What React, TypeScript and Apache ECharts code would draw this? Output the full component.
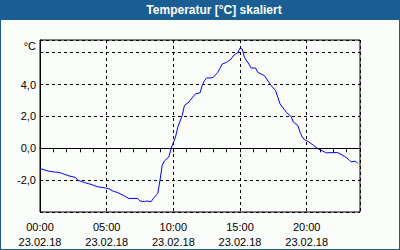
import React, { useEffect, useRef } from "react";
import * as echarts from "echarts";

const title = "Temperatur [°C] skaliert";
const unit = "°C";
const dateLabel = "23.02.18";
const times = [
  "00:00", "00:40", "01:10", "01:20", "01:40", "02:10", "02:40", "02:50", "03:20", "03:50",
  "04:20", "04:50", "05:10", "05:30", "05:50", "06:20", "06:40", "07:20", "07:30", "07:50",
  "08:00", "08:20", "08:30", "08:50", "09:00", "09:10", "09:20", "09:40", "09:50", "10:10",
  "10:20", "10:40", "10:50", "11:10", "11:20", "11:40", "12:00", "12:10", "12:20", "12:30",
  "12:50", "13:00", "13:20", "13:40", "14:00", "14:20", "14:30", "14:50", "15:00", "15:10",
  "15:20", "15:40", "15:50", "16:10", "16:20", "16:50", "17:00", "17:10", "17:20", "17:40",
  "17:50", "18:00", "18:20", "18:30", "18:50", "19:00", "19:20", "19:30", "19:40", "19:50",
  "20:10", "20:30", "20:50", "21:20", "21:30", "21:50", "22:20", "22:50", "23:10", "23:20",
  "23:40", "23:50",
];
const temps = [
  -1.27, -1.44, -1.5, -1.5, -1.58, -1.73, -1.83, -2.0, -2.15, -2.27,
  -2.42, -2.48, -2.54, -2.7, -2.78, -3.0, -3.15, -3.15, -3.31, -3.35,
  -3.31, -3.35, -3.15, -2.83, -2.0, -1.06, -0.79, -0.54, 0.0, 0.71,
  1.33, 2.06, 2.69, 2.9, 3.1, 3.42, 3.48, 3.94, 4.25, 4.42,
  4.42, 4.46, 4.77, 5.29, 5.4, 5.6, 5.81, 6.02, 6.29, 6.23,
  5.71, 5.29, 5.04, 5.04, 4.77, 4.56, 4.35, 4.15, 3.94, 3.63,
  3.21, 2.79, 2.42, 2.23, 2.0, 1.65, 1.44, 1.02, 0.71, 0.54,
  0.4, 0.19, -0.02, -0.23, -0.29, -0.27, -0.27, -0.5, -0.71, -0.85,
  -0.81, -0.96,
];
const yLabels = [4, 2, 0, -2];
const xTickHours = [0, 5, 10, 15, 20];

const FONT = "Liberation Sans";
const BLUE = "#1b5e93";

function toHours(t: string): number {
  const [h, m] = t.split(":").map(Number);
  return h + m / 60;
}

export default function App() {
  const ref = useRef<HTMLDivElement>(null);
  useEffect(() => {
    if (!ref.current) return;
    const chart = echarts.init(ref.current, undefined, { renderer: "svg" });
    const data = times.map((t, i) => [toHours(t), temps[i]]);
    chart.setOption({
      animation: false,
      backgroundColor: "#fbfdfb",
      textStyle: { fontFamily: FONT },
      grid: {
        left: 40,
        right: 40,
        top: 40,
        bottom: 38,
        show: true,
        borderColor: "#000",
        borderWidth: 1,
      },
      xAxis: {
        type: "value",
        min: 0,
        max: 24,
        interval: 5,
        axisLine: { show: true, lineStyle: { color: "#000", width: 1 } },
        axisTick: { show: true, length: 4, lineStyle: { color: "#000" } },
        minorTick: { show: true, splitNumber: 5, length: 4, lineStyle: { color: "#000" } },
        splitLine: { show: true, lineStyle: { color: "#000", type: [3, 3], width: 1 } },
        axisLabel: {
          margin: 7,
          fontFamily: FONT,
          fontSize: 11,
          color: "#000",
          lineHeight: 15,
          formatter: (v: number) => {
            if (!xTickHours.includes(v)) return "";
            const hh = String(v).padStart(2, "0");
            return `${hh}:00\n${dateLabel}`;
          },
        },
      },
      yAxis: {
        type: "value",
        min: -4,
        max: 6.8,
        interval: 2,
        axisLine: { show: true, lineStyle: { color: "#000", width: 1 } },
        axisTick: { show: false },
        splitLine: { show: true, lineStyle: { color: "#000", type: [3, 3], width: 1 } },
        axisLabel: {
          margin: 4,
          fontFamily: FONT,
          fontSize: 11,
          color: "#000",
          formatter: (v: number) =>
            yLabels.includes(v) ? v.toFixed(1).replace(".", ",") : "",
        },
      },
      series: [
        {
          type: "line",
          data,
          showSymbol: false,
          symbol: "none",
          lineStyle: { color: "#0000ff", width: 1 },
        },
      ],
      graphic: [
        { type: "rect", shape: { x: 0, y: 0, width: 400, height: 20 }, style: { fill: BLUE }, silent: true },
        { type: "rect", shape: { x: 0, y: 0, width: 1, height: 250 }, style: { fill: BLUE }, silent: true },
        { type: "rect", shape: { x: 399, y: 0, width: 1, height: 250 }, style: { fill: BLUE }, silent: true },
        { type: "rect", shape: { x: 0, y: 249, width: 400, height: 1 }, style: { fill: BLUE }, silent: true },
        {
          type: "text",
          x: 214,
          y: 10,
          style: {
            text: title,
            fill: "#fff",
            font: `bold 12px "${FONT}"`,
            textAlign: "center",
            textVerticalAlign: "middle",
          },
        },
        {
          type: "text",
          x: 36,
          y: 46,
          style: {
            text: unit,
            fill: "#000",
            font: `11px "${FONT}"`,
            textAlign: "right",
            textVerticalAlign: "middle",
          },
        },
      ],
    });
    return () => chart.dispose();
  }, []);
  return (
    <div
      ref={ref}
      style={{ position: "fixed", left: 0, top: 0, width: 400, height: 250 }}
    />
  );
}
